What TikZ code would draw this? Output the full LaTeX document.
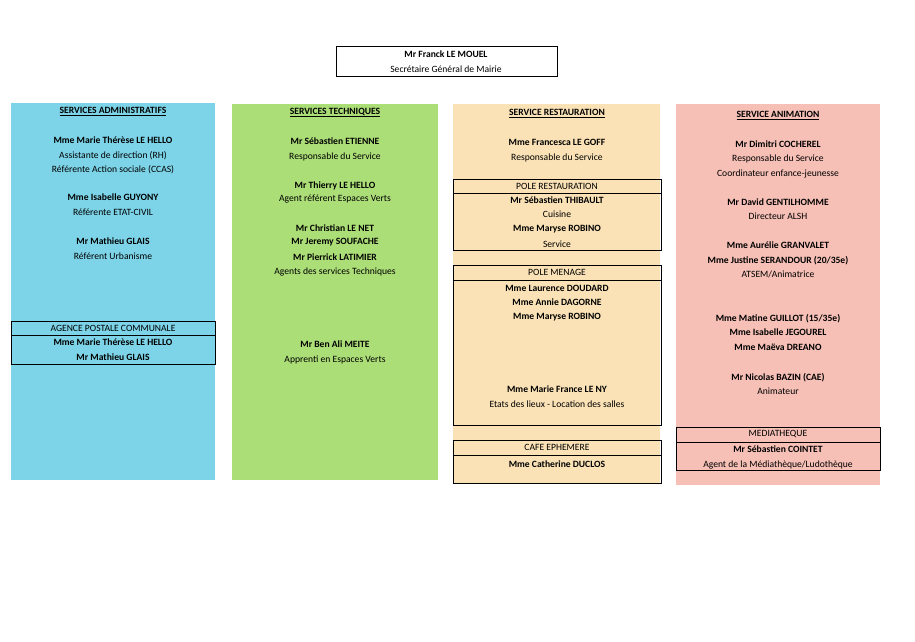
\documentclass[tikz,border=0pt]{standalone}
\usepackage{fontspec}
\setmainfont{Carlito}
\definecolor{cadm}{RGB}{125,212,232}
\definecolor{ctec}{RGB}{172,222,120}
\definecolor{cres}{RGB}{250,226,182}
\definecolor{cani}{RGB}{246,192,182}
\begin{document}
\begin{tikzpicture}[x=1pt,y=-1pt,
  t/.style={font=\fontsize{9.6}{11}\selectfont,inner sep=0pt,anchor=center},
  b/.style={t,font=\fontsize{9.6}{11}\selectfont\bfseries},
  col/.style={draw=none},
  frame/.style={draw=black,line width=0.7pt}]
\useasboundingbox[fill=white] (0,0) rectangle (915,642);
% top
\draw[frame] (336,46) rectangle (557,76);
\node[b] (top1) at (446,54.5) {Mr Franck LE MOUEL};
\node[t] (top2) at (446,69.5) {Secrétaire Général de Mairie};
% columns
\fill[cadm] (11,103) rectangle (215,480);
\fill[ctec] (232,104) rectangle (438,480);
\fill[cres] (453,104) rectangle (660,483);
\fill[cani] (676,104) rectangle (880,485);
% col 1
\node[b] (a0) at (113,111.5) {\underline{SERVICES ADMINISTRATIFS}};
\node[b] (a1) at (113,140.5) {Mme Marie Thérèse LE HELLO};
\node[t] (a2) at (113,155.5) {Assistante de direction (RH)};
\node[t] (a3) at (113,169.5) {Référente Action sociale (CCAS)};
\node[b] (a4) at (113,197.5) {Mme Isabelle GUYONY};
\node[t] (a5) at (113,212.5) {Référente ETAT-CIVIL};
\node[b] (a6) at (113,241.5) {Mr Mathieu GLAIS};
\node[t] (a7) at (113,256.5) {Référent Urbanisme};
\draw[frame] (11,321) rectangle (215,335);
\draw[frame] (11,335) rectangle (215,364);
\node[t] (a8) at (113,328.5) {AGENCE POSTALE COMMUNALE};
\node[b] (a9) at (113,342.5) {Mme Marie Thérèse LE HELLO};
\node[b] (a10) at (113,357.5) {Mr Mathieu GLAIS};
% col 2
\node[b] (b0) at (335,112.5) {\underline{SERVICES TECHNIQUES}};
\node[b] (b1) at (335,141.5) {Mr Sébastien ETIENNE};
\node[t] (b2) at (335,156.5) {Responsable du Service};
\node[b] (b3) at (335,185.5) {Mr Thierry LE HELLO};
\node[t] (b4) at (335,199.5) {Agent référent Espaces Verts};
\node[b] (b5) at (335,228.5) {Mr Christian LE NET};
\node[b] (b6) at (335,242.5) {Mr Jeremy SOUFACHE};
\node[b] (b7) at (335,257.5) {Mr Pierrick LATIMIER};
\node[t] (b8) at (335,271.5) {Agents des services Techniques};
\node[b] (b9) at (335,344.5) {Mr Ben Ali MEITE};
\node[t] (b10) at (335,359.5) {Apprenti en Espaces Verts};
% col 3
\node[b] (c0) at (557,113.5) {\underline{SERVICE RESTAURATION}};
\node[b] (c1) at (557,142.5) {Mme Francesca LE GOFF};
\node[t] (c2) at (557,157.5) {Responsable du Service};
\draw[frame] (453,179) rectangle (661,193);
\draw[frame] (453,193) rectangle (661,250);
\node[t] (c3) at (557,186.5) {POLE RESTAURATION};
\node[b] (c4) at (557,200.5) {Mr Sébastien THIBAULT};
\node[t] (c5) at (557,214.5) {Cuisine};
\node[b] (c6) at (557,229.5) {Mme Maryse ROBINO};
\node[t] (c7) at (557,244.5) {Service};
\draw[frame] (453,265) rectangle (661,280);
\draw[frame] (453,280) rectangle (661,425);
\node[t] (c8) at (557,272.5) {POLE MENAGE};
\node[b] (c9) at (557,288.5) {Mme Laurence DOUDARD};
\node[b] (c10) at (557,302.5) {Mme Annie DAGORNE};
\node[b] (c11) at (557,317.5) {Mme Maryse ROBINO};
\node[b] (c12) at (557,389.5) {Mme Marie France LE NY};
\node[t] (c13) at (557,404.5) {Etats des lieux - Location des salles};
\draw[frame] (453,440) rectangle (661,455);
\draw[frame] (453,455) rectangle (661,483);
\node[t] (c14) at (557,447.5) {CAFE EPHEMERE};
\node[b] (c15) at (557,464.5) {Mme Catherine DUCLOS};
% col 4
\node[b] (d0) at (778,115.5) {\underline{SERVICE ANIMATION}};
\node[b] (d1) at (778,144.5) {Mr Dimitri COCHEREL};
\node[t] (d2) at (778,158.5) {Responsable du Service};
\node[t] (d3) at (778,173.5) {Coordinateur enfance-jeunesse};
\node[b] (d4) at (778,202.5) {Mr David GENTILHOMME};
\node[t] (d5) at (778,216.5) {Directeur ALSH};
\node[b] (d6) at (778,245.5) {Mme Aurélie GRANVALET};
\node[b] (d7) at (778,260.5) {Mme Justine SERANDOUR (20/35e)};
\node[t] (d8) at (778,274.5) {ATSEM/Animatrice};
\node[b] (d9) at (778,318.5) {Mme Matine GUILLOT (15/35e)};
\node[b] (d10) at (778,332.5) {Mme Isabelle JEGOUREL};
\node[b] (d11) at (778,347.5) {Mme Maëva DREANO};
\node[b] (d12) at (778,377.5) {Mr Nicolas BAZIN (CAE)};
\node[t] (d13) at (778,391.5) {Animateur};
\draw[frame] (676,427) rectangle (880,442);
\draw[frame] (676,442) rectangle (880,470);
\node[t] (d14) at (778,434.5) {MEDIATHEQUE};
\node[b] (d15) at (778,449.5) {Mr Sébastien COINTET};
\node[t] (d16) at (778,464.5) {Agent de la Médiathèque/Ludothèque};
\end{tikzpicture}
\end{document}
